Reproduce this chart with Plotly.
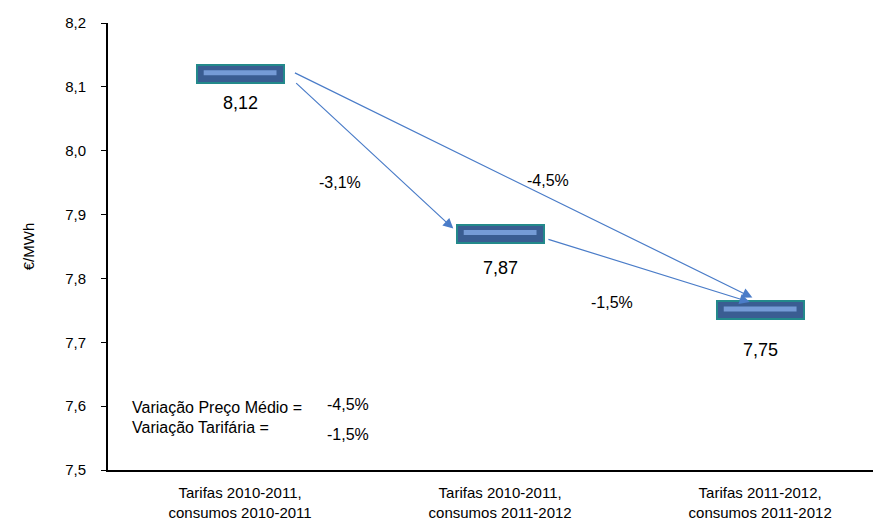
import plotly.graph_objects as go

categories = ["Tarifas 2010-2011,<br>consumos 2010-2011",
              "Tarifas 2010-2011,<br>consumos 2011-2012",
              "Tarifas 2011-2012,<br>consumos 2011-2012"]
values = [8.12, 7.87, 7.75]
value_labels = ["8,12", "7,87", "7,75"]
changes = ["-3,1%", "-4,5%", "-1,5%"]
summary_labels = ["Variação Preço Médio =", "Variação Tarifária ="]
summary_values = ["-4,5%", "-1,5%"]
y_ticks = [7.5, 7.6, 7.7, 7.8, 7.9, 8.0, 8.1, 8.2]

xs = [0, 1, 2]
half_h = 0.014
font = "Liberation Sans, Arial, sans-serif"

fig = go.Figure()
# floating bars (markers)
fig.add_trace(go.Bar(
    x=xs, y=[2 * half_h] * 3, base=[v - half_h for v in values],
    width=0.335, marker=dict(color="#3A5D92", line=dict(color="#23898B", width=2)),
    hoverinfo="skip", showlegend=False))
# highlight stripe
for x, v in zip(xs, values):
    fig.add_trace(go.Scatter(
        x=[x - 0.14, x + 0.14], y=[v + 0.002, v + 0.002], mode="lines",
        line=dict(color="#759BD6", width=5), hoverinfo="skip", showlegend=False))

annotations = []
arrow_col = "#4A7CC8"
# arrows (offsets from bar ends)
arrows = [
    (xs[0] + 0.21, values[0] - 0.012, xs[1] - 0.18, values[1] + 0.008),
    (xs[0] + 0.205, values[0] + 0.003, xs[2] - 0.03, values[2] + 0.02),
    (xs[1] + 0.18, values[1] - 0.008, xs[2] - 0.04, values[2] + 0.013),
]
for x0, y0, x1, y1 in arrows:
    annotations.append(dict(x=x1, y=y1, ax=x0, ay=y0, xref="x", yref="y",
                            axref="x", ayref="y", showarrow=True, arrowhead=2,
                            arrowsize=1.7, arrowwidth=1.2, arrowcolor=arrow_col, text=""))
# value labels
label_shift = [-29, -34, -40]
for x, v, t, s in zip(xs, values, value_labels, label_shift):
    annotations.append(dict(x=x, y=v, xref="x", yref="y", text=t, showarrow=False,
                            yshift=s, font=dict(size=18, color="black", family=font)))
# change labels
chg_pos = [(0.385, 7.951), (1.185, 7.954), (1.431, 7.763)]
for (x, y), t in zip(chg_pos, changes):
    annotations.append(dict(x=x, y=y, xref="x", yref="y", text=t, showarrow=False,
                            font=dict(size=16, color="black", family=font)))
# summary box
lab_y = [0.116, 0.0716]
val_y = [0.123, 0.056]
for lab, val, yl, yv in zip(summary_labels, summary_values, lab_y, val_y):
    annotations.append(dict(x=0.0288, y=yl, xref="paper", yref="paper", text=lab,
                            showarrow=False, xanchor="left",
                            font=dict(size=16, color="black", family=font)))
    annotations.append(dict(x=0.314, y=yv, xref="paper", yref="paper", text=val,
                            showarrow=False, xanchor="center",
                            font=dict(size=16, color="black", family=font)))

fig.update_layout(
    width=875, height=521, margin=dict(l=108, r=2, t=23, b=51, autoexpand=False),
    plot_bgcolor="white", paper_bgcolor="white", separators=",.",
    font=dict(family=font, size=14, color="black"),
    annotations=annotations, showlegend=False, bargap=0,
    xaxis=dict(range=[-0.508, 2.434], tickvals=xs, ticktext=categories, showline=True,
               linecolor="black", linewidth=2, ticks="", showgrid=False, zeroline=False,
               automargin=False, ticklabelstandoff=8, tickfont=dict(size=15, family=font)),
    yaxis=dict(range=[7.5, 8.2], tickvals=y_ticks, tickformat=".1f", showline=True,
               linecolor="black", linewidth=2, ticks="outside", ticklen=5,
               tickcolor="black", showgrid=False, zeroline=False, automargin=False,
               ticklabelstandoff=12,
               title=dict(text="€/MWh", font=dict(size=15, family=font), standoff=27),
               tickfont=dict(size=15, family=font)),
)
fig.write_html("out.html", config={"displayModeBar": False},
               post_script="document.body.style.margin='0';document.body.style.overflow='hidden';")
